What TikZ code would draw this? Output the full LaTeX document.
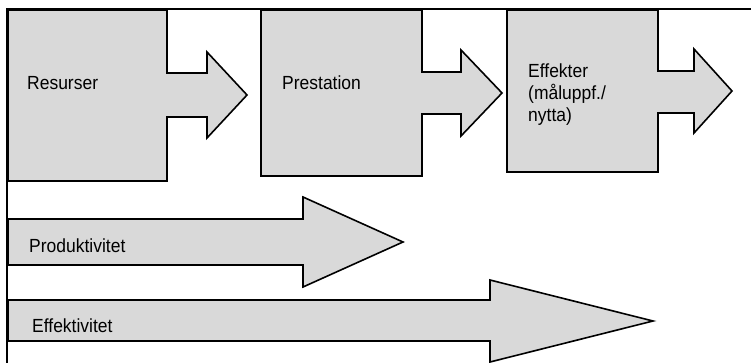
\documentclass[tikz,border=0pt]{standalone}
\usepackage{fontspec}
\setmainfont{Liberation Sans}[FakeStretch=0.92]
\begin{document}
\begin{tikzpicture}[x=1pt,y=-1pt,
  blockshape/.style={draw=black,line width=1.6pt,fill=boxgray,line join=miter},
  framelines/.style={draw=black,line width=1.6pt},
  lbl/.style={anchor=base west,inner sep=0pt,font=\fontsize{19}{22}\selectfont}]
\definecolor{boxgray}{RGB}{217,217,217}
\useasboundingbox (0,0) rectangle (751,363);
% block 1
\path[blockshape] (8,10) -- (167,10) -- (167,73) -- (207,73) -- (207,52) -- (247,95)
  -- (207,138) -- (207,117) -- (167,117) -- (167,181) -- (8,181) -- cycle;
% block 2
\path[blockshape] (261,10) -- (422,10) -- (422,72) -- (461,72) -- (461,50) -- (502,93)
  -- (461,136) -- (461,114) -- (422,114) -- (422,176) -- (261,176) -- cycle;
% block 3
\path[blockshape] (507,10) -- (658,10) -- (658,71) -- (694,71) -- (694,49) -- (732,91)
  -- (694,133) -- (694,113) -- (658,113) -- (658,172) -- (507,172) -- cycle;
% Produktivitet arrow
\path[blockshape] (8,219) -- (303,219) -- (303,197) -- (403,242) -- (303,287)
  -- (303,265) -- (8,265) -- cycle;
% Effektivitet arrow
\path[blockshape] (8,300) -- (490,300) -- (490,280) -- (653,321) -- (490,362)
  -- (490,341) -- (8,341) -- cycle;
% frame
\draw[framelines] (751,9) -- (7,9) -- (7,363);
% labels
\node[lbl] (res) at (27,90) {Resurser};
\node[lbl] (pre) at (282,90) {Prestation};
\node[lbl] (eff1) at (528,78) {Effekter};
\node[lbl] (eff2) at (528,100) {(måluppf./};
\node[lbl] (eff3) at (528,122) {nytta)};
\node[lbl] (prod) at (29,252) {Produktivitet};
\node[lbl] (effk) at (32,332) {Effektivitet};
\end{tikzpicture}
\end{document}
